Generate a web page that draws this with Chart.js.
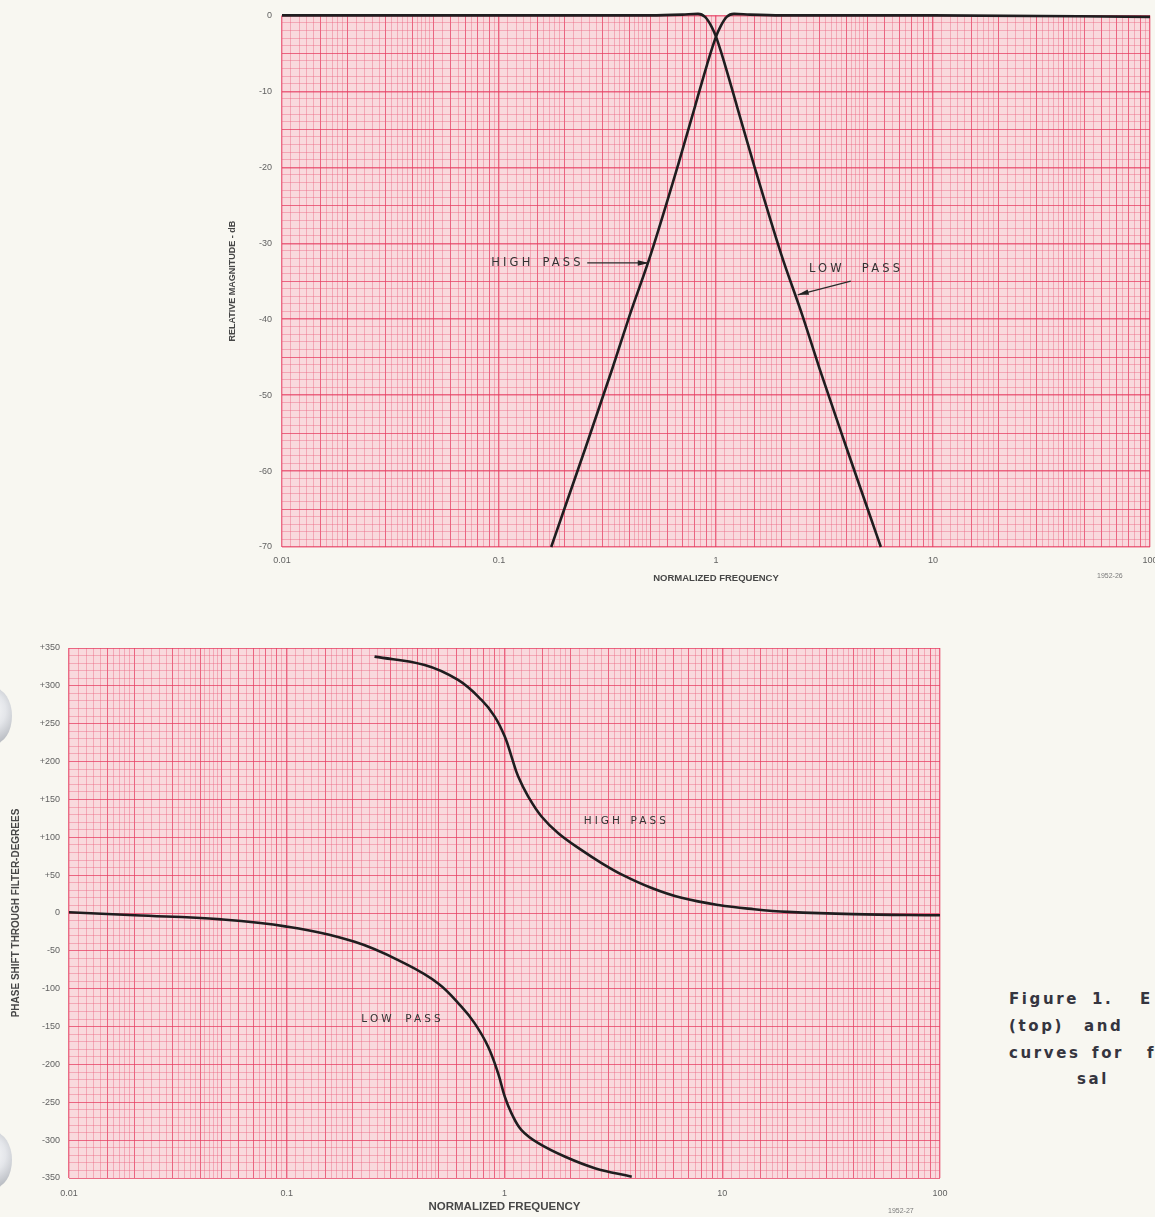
<!DOCTYPE html>
<html><head><meta charset="utf-8">
<script src="https://cdn.jsdelivr.net/npm/chart.js@4.4.1/dist/chart.umd.min.js"></script>
<style>
html,body{margin:0;padding:0;width:1155px;height:1217px;overflow:hidden;background:#f8f7f1;}
#top{position:absolute;left:0;top:0;width:1200px;height:584px;}
#bot{position:absolute;left:0;top:630px;width:1000px;height:584px;}
.note{position:absolute;font-family:"Liberation Sans",Arial,sans-serif;color:#7a7a7a;font-size:7px;}
.cap{position:absolute;font-family:"DejaVu Sans",sans-serif;font-weight:bold;font-size:15px;letter-spacing:2.6px;color:#35353f;white-space:pre;line-height:16px;}
.hole{position:absolute;left:-24px;width:36px;height:56px;border-radius:50%;background:radial-gradient(circle at 30% 40%, #ffffff 0%, #e4e6ea 45%, #a3a7ae 100%);}
</style></head><body>
<div id="top"><canvas id="c1"></canvas></div>
<div id="bot"><canvas id="c2"></canvas></div>
<div class="hole" style="top:688px;"></div>
<div class="hole" style="top:1132px;"></div>
<div class="note" style="left:1097px;top:572px;">1952-26</div>
<div class="note" style="left:888px;top:1207px;">1952-27</div>
<div class="cap" style="top:991px;left:1009px;">Figure</div>
<div class="cap" style="top:991px;left:1092px;">1.</div>
<div class="cap" style="top:991px;left:1140px;">E</div>
<div class="cap" style="top:1018px;left:1009px;">(top)</div>
<div class="cap" style="top:1018px;left:1084px;">and</div>
<div class="cap" style="top:1045px;left:1009px;">curves</div>
<div class="cap" style="top:1045px;left:1092px;">for</div>
<div class="cap" style="top:1045px;left:1147px;">f</div>
<div class="cap" style="top:1071px;left:1077px;">sal</div>
<script>
// ---------- data ----------
const freqTicks = [0.01, 0.1, 1, 10, 100];
const freqTickLabels = ['0.01', '0.1', '1', '10', '100'];
const magTicks = [0, -10, -20, -30, -40, -50, -60, -70];
const magTickLabels = ['0', '-10', '-20', '-30', '-40', '-50', '-60', '-70'];
const phaseTicks = [350, 300, 250, 200, 150, 100, 50, 0, -50, -100, -150, -200, -250, -300, -350];
const phaseTickLabels = ['+350', '+300', '+250', '+200', '+150', '+100', '+50', '0', '-50', '-100', '-150', '-200', '-250', '-300', '-350'];

// relative magnitude (dB) vs normalized frequency
const lpMagFreq = [0.01, 0.1, 0.3, 0.5, 0.7, 0.826, 0.89, 0.955, 1.0, 1.1, 1.25, 1.5, 2.0, 2.5, 3.0, 4.0, 5.0, 5.75];
const lpMagDb   = [0, 0, 0, 0, 0.1, 0.2, -0.2, -1.5, -2.8, -6.5, -12, -19.8, -31.5, -39.5, -46.5, -57, -65, -70];
const hpMagFreq = [0.174, 0.2, 0.25, 0.333, 0.4, 0.5, 0.667, 0.8, 0.909, 1.0, 1.047, 1.12, 1.21, 1.43, 2.0, 10, 100];
const hpMagDb   = [-70, -65, -57, -46.5, -39.5, -31.5, -19.8, -12, -6.5, -2.8, -1.5, -0.2, 0.2, 0.1, 0, 0, -0.2];

// phase shift (degrees) vs normalized frequency
const lpPhaseFreq = [0.01, 0.02, 0.05, 0.1, 0.205, 0.348, 0.496, 0.634, 0.73, 0.841, 0.935, 1.003, 1.077, 1.197, 1.43, 1.9, 2.6, 3.84];
const lpPhaseDeg  = [1, -3, -8.4, -18, -38, -66.5, -93, -123.7, -145.8, -176.6, -211.8, -242.6, -264.6, -286.7, -304, -322, -337, -348.3];
const hpPhaseFreq = [0.253, 0.43, 0.612, 0.784, 0.902, 1.003, 1.077, 1.156, 1.285, 1.479, 1.766, 2.26, 2.79, 3.5, 4.74, 6.5, 9.6, 14, 20, 40, 100];
const hpPhaseDeg  = [338.6, 327.6, 307.8, 281.4, 259.4, 233, 206.6, 180.2, 153.8, 127.4, 105.4, 83, 66, 50, 33, 20, 10.5, 5, 1.5, -1.5, -3];

// ---------- styles ----------
const INK = '#1f1d1f';
const PAPER = '#f9d9dd';
const LINE_STRONG = 'rgba(230,62,98,0.75)';
const LINE_FINE = 'rgba(236,95,125,0.4)';
const TICK_COLOR = '#626262';
const TITLE_COLOR = '#474747';

const paperPlugin = {
  id: 'paper',
  beforeDraw(chart) {
    const a = chart.chartArea, c = chart.ctx;
    c.save(); c.fillStyle = PAPER; c.fillRect(a.left, a.top, a.right - a.left, a.bottom - a.top); c.restore();
  }
};

const notesPlugin = {
  id: 'notes',
  afterDatasetsDraw(chart, args, opts) {
    const c = chart.ctx, xs = chart.scales.x, ys = chart.scales.y;
    c.save();
    (opts.items || []).forEach(n => {
      c.font = (opts.size || 11) + 'px "DejaVu Sans", sans-serif';
      c.letterSpacing = (opts.spacing || 3) + 'px';
      c.wordSpacing = (n.wordSpacing !== undefined ? n.wordSpacing : 2) + 'px';
      c.fillStyle = '#333';
      c.textBaseline = 'middle';
      c.fillText(n.text, xs.getPixelForValue(n.x), ys.getPixelForValue(n.y));
      if (n.from) {
        const x1 = xs.getPixelForValue(n.from[0]), y1 = ys.getPixelForValue(n.from[1]);
        const x2 = xs.getPixelForValue(n.to[0]), y2 = ys.getPixelForValue(n.to[1]);
        c.strokeStyle = '#2a2a2a'; c.lineWidth = 1.2;
        c.beginPath(); c.moveTo(x1, y1); c.lineTo(x2, y2); c.stroke();
        const ang = Math.atan2(y2 - y1, x2 - x1), L = 11, W = 2.8;
        c.fillStyle = '#222';
        c.beginPath();
        c.moveTo(x2, y2);
        c.lineTo(x2 - L * Math.cos(ang) + W * Math.sin(ang), y2 - L * Math.sin(ang) - W * Math.cos(ang));
        c.lineTo(x2 - L * Math.cos(ang) - W * Math.sin(ang), y2 - L * Math.sin(ang) + W * Math.cos(ang));
        c.closePath(); c.fill();
      }
    });
    c.restore();
  }
};

// grid generators (paper rulings)
function logRulings(min, max) {
  const out = [];
  const strong = [1, 1.5, 2, 3, 4, 5, 6, 7, 8, 9];
  for (let d = min; d < max * 0.999; d *= 10) {
    const ms = [];
    for (let m = 1; m < 2.001; m += 0.1) ms.push(Math.round(m * 10) / 10);
    for (let m = 2.2; m < 5.001; m += 0.2) ms.push(Math.round(m * 10) / 10);
    for (let m = 5.5; m < 9.999; m += 0.5) ms.push(Math.round(m * 10) / 10);
    [...new Set(ms)].forEach(m => out.push({ value: d * m, lvl: m === 1 ? 2 : (strong.includes(m) ? 1 : 0) }));
  }
  out.push({ value: max, lvl: 2 });
  return out;
}
function linRulings(min, max, fine, strong, major) {
  const out = [];
  for (let v = min; v <= max + 1e-9; v += fine) {
    const r = Math.round(v);
    out.push({ value: r, lvl: r % major === 0 ? 2 : (r % strong === 0 ? 1 : 0) });
  }
  return out;
}
const gridColor = ctx => (ctx.tick && ctx.tick.lvl > 0) ? LINE_STRONG : LINE_FINE;
const gridWidth = ctx => (ctx.tick && ctx.tick.lvl === 2) ? 1.4 : 1;

function freqLabel(value) {
  const i = freqTicks.findIndex(t => Math.abs(Math.log10(t) - Math.log10(value)) < 1e-6);
  return i >= 0 ? freqTickLabels[i] : '';
}

function xAxis(titleSize, height, pad) {
  return {
    type: 'logarithmic', min: 0.01, max: 100,
    afterBuildTicks: s => { s.ticks = logRulings(0.01, 100); },
    afterFit: s => { s.height = height; },
    grid: { color: gridColor, lineWidth: gridWidth, drawTicks: false },
    border: { display: false },
    ticks: { autoSkip: false, maxRotation: 0, minRotation: 0, padding: pad, color: TICK_COLOR,
      font: { size: 9, family: '"Liberation Sans", Arial, sans-serif' }, callback: v => freqLabel(v) },
    title: { display: true, text: 'NORMALIZED FREQUENCY', color: TITLE_COLOR, padding: 0,
      font: { size: titleSize, weight: 'bold', family: '"Liberation Sans", Arial, sans-serif' } }
  };
}

const magLine = { borderColor: INK, borderWidth: 2.6, pointRadius: 0, cubicInterpolationMode: 'monotone', clip: false, fill: false };
const phaseLine = { borderColor: INK, borderWidth: 2.6, pointRadius: 0, tension: 0.4, clip: false, fill: false };
const pts = (xs, ys) => xs.map((x, i) => ({ x: x, y: ys[i] }));

new Chart(document.getElementById('c1'), {
  type: 'line',
  data: { datasets: [
    Object.assign({ label: 'Low pass', data: pts(lpMagFreq, lpMagDb) }, magLine),
    Object.assign({ label: 'High pass', data: pts(hpMagFreq, hpMagDb) }, magLine)
  ] },
  options: {
    responsive: true, maintainAspectRatio: false, animation: false,
    layout: { padding: { left: 227, top: 15, right: 50, bottom: 0 } },
    plugins: { legend: { display: false }, tooltip: { enabled: false },
      notes: { size: 11.5, spacing: 3.2, items: [
        { text: 'HIGH PASS', x: 0.092, y: -32.6, wordSpacing: 2, from: [0.255, -32.6], to: [0.49, -32.6] },
        { text: 'LOW PASS', x: 2.68, y: -33.4, wordSpacing: 10, from: [4.18, -35], to: [2.38, -36.8] }
      ] } },
    scales: {
      x: xAxis(9.5, 37, 8),
      y: {
        min: -70, max: 0,
        afterBuildTicks: s => { s.ticks = linRulings(-70, 0, 1, 5, 10); },
        afterFit: s => { s.width = 55; },
        grid: { color: gridColor, lineWidth: gridWidth, drawTicks: false },
        border: { display: false },
        ticks: { autoSkip: false, padding: 10, color: TICK_COLOR,
          font: { size: 9, family: '"Liberation Sans", Arial, sans-serif' },
          callback: v => { const i = magTicks.indexOf(v); return i >= 0 ? magTickLabels[i] : ''; } },
        title: { display: true, text: 'RELATIVE MAGNITUDE - dB', color: TITLE_COLOR, padding: 0,
          font: { size: 9, weight: 'bold', family: '"Liberation Sans", Arial, sans-serif' } }
      }
    }
  },
  plugins: [paperPlugin, notesPlugin]
});

new Chart(document.getElementById('c2'), {
  type: 'line',
  data: { datasets: [
    Object.assign({ label: 'High pass', data: pts(hpPhaseFreq, hpPhaseDeg) }, phaseLine),
    Object.assign({ label: 'Low pass', data: pts(lpPhaseFreq, lpPhaseDeg) }, phaseLine)
  ] },
  options: {
    responsive: true, maintainAspectRatio: false, animation: false,
    layout: { padding: { left: 10, top: 18, right: 60, bottom: 0 } },
    plugins: { legend: { display: false }, tooltip: { enabled: false },
      notes: { size: 10.5, spacing: 3.1, items: [
        { text: 'HIGH PASS', x: 2.31, y: 121.5, wordSpacing: 1 },
        { text: 'LOW PASS', x: 0.22, y: -140, wordSpacing: 4 }
      ] } },
    scales: {
      x: xAxis(11.5, 36, 10),
      y: {
        min: -350, max: 350,
        afterBuildTicks: s => { s.ticks = linRulings(-350, 350, 10, 50, 50); },
        afterFit: s => { s.width = 59; },
        grid: { color: gridColor, lineWidth: 1, drawTicks: false },
        border: { display: false },
        ticks: { autoSkip: false, padding: 9, color: TICK_COLOR,
          font: { size: 9, family: '"Liberation Sans", Arial, sans-serif' },
          callback: v => { const i = phaseTicks.indexOf(v); return i >= 0 ? phaseTickLabels[i] : ''; } },
        title: { display: true, text: 'PHASE SHIFT THROUGH FILTER-DEGREES', color: TITLE_COLOR, padding: 0,
          font: { size: 10, weight: 'bold', family: '"Liberation Sans", Arial, sans-serif' } }
      }
    }
  },
  plugins: [paperPlugin, notesPlugin]
});
</script>
</body></html>
